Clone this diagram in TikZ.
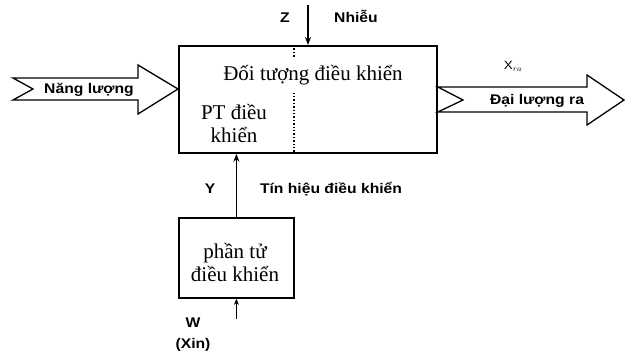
\documentclass[tikz,border=0pt]{standalone}
\usepackage{fontspec}
\setmainfont{Liberation Serif}
\newfontfamily\lblfont[FakeStretch=1.12]{Liberation Sans}
\usetikzlibrary{arrows.meta,calc}
\begin{document}
\begin{tikzpicture}[x=1pt,y=-1pt,
  blk/.style={draw,line width=1.8pt,inner sep=0pt,anchor=north west},
  barrow/.style={draw,line width=1.3pt,fill=white,line join=miter},
  lbl/.style={font=\lblfont\bfseries\fontsize{14}{16}\selectfont,inner sep=0pt},
  btxt/.style={font=\fontsize{21}{24}\selectfont,inner sep=0pt,align=center},
  sig/.style={line width=1.4pt,-{Stealth[length=8pt,width=6pt]}}]
\useasboundingbox (0,0) rectangle (626,356);
% boxes
\node[blk,minimum width=258pt,minimum height=107pt] (obj) at (178,45) {};
\node[blk,minimum width=115pt,minimum height=80pt] (ctl) at (178,217) {};
% dotted divider
\coordinate (d1) at (294,45);
\coordinate (d2) at (294,152);
\draw[line width=1.4pt,dotted] (d1) -- (d2);
% input energy block arrow
\draw[barrow] (13,78) -- (138,78) -- (138,65) -- (obj.west |- 0,89) -- (138,114) -- (138,100) -- (13,100) -- (33,89) -- cycle;
% output block arrow
\draw[barrow] (obj.east |- 0,87) -- (587,87) -- (587,75) -- (624,100) -- (587,125) -- (587,112) -- (obj.east |- 0,112) -- (463,100) -- cycle;
% texts in boxes
\node[btxt,fill=white,inner ysep=8pt,inner xsep=3pt] (t1) at (313,75) {Đối tượng điều khiển};
\node[btxt] (t2) at (234,123) {PT điều\\[-1pt]khiển};
\node[btxt] (t3) at (235,262) {phần tử\\[-1pt]điều khiển};
% labels
\node[lbl] (nl) at (89,90) {Năng lượng};
\node[lbl] (dl) at (537,101) {Đại lượng ra};
\node[lbl,font=\lblfont\fontsize{12}{14}\selectfont] (xr) at (513,66) {X$_{ra}$};
\node[lbl] (z) at (285,18) {Z};
\node[lbl] (nh) at (356,16) {Nhiễu};
\node[lbl] (y) at (210,189) {Y};
\node[lbl] (th) at (331,189) {Tín hiệu điều khiển};
\node[lbl] (w) at (193,323) {W};
\node[lbl] (xin) at (193,345) {(Xin)};
% signal arrows
\coordinate (zt) at (308,5);
\draw[sig] (zt) -- (obj.north -| zt);
\draw[sig] (ctl.north) -- (obj.south -| ctl.north);
\coordinate (wt) at (ctl.south |- 0,319);
\draw[sig,-{Stealth[length=6pt,width=5pt]}] (wt) -- (ctl.south);
\end{tikzpicture}
\end{document}
